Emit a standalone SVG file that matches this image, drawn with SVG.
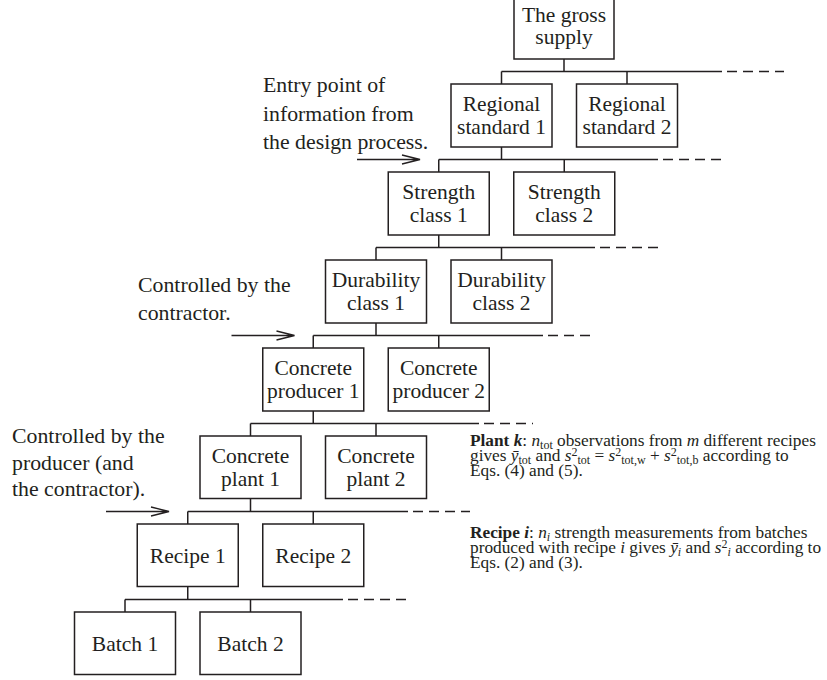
<svg xmlns="http://www.w3.org/2000/svg" width="827" height="680" viewBox="0 0 827 680">
<defs>
<style>
.box{fill:#fff;stroke:#231f20;stroke-width:1.5}
.ln{fill:none;stroke:#231f20;stroke-width:1.5}
.dash{fill:none;stroke:#231f20;stroke-width:1.5;stroke-dasharray:10 6}
.arr{fill:none;stroke:#231f20;stroke-width:1.3}
.nt{font-family:"Liberation Serif","Times New Roman",serif;font-size:21.5px;fill:#231f20;text-anchor:middle}
.lab{font-family:"Liberation Serif","Times New Roman",serif;font-size:21.8px;fill:#231f20}
.note{font-family:"Liberation Serif","Times New Roman",serif;font-size:17.3px;fill:#231f20}
.sub{font-size:12px}
.i{font-style:italic}
.b{font-weight:bold}
</style>
</defs>
<rect width="827" height="680" fill="#fff"/>

<g id="connectors">
<path class="ln" d="M564 59V71.5M501.5 147V159.5M438.75 235V247.5M376 323V335.5M313.25 411V423.5M250.5 498.5V511.5M187.75 586.5V599.5"/>
<path class="ln" d="M501.5 71.5H722M438.75 159.5H658M376 247.5H595M313.25 335.5H543M250.5 423.5H479M187.75 511.5H408M125 599.5H343"/>
<path class="dash" d="M727 71.5H784M663 159.5H722M600 247.5H658M548 335.5H595M484 423.5H533M413 511.5H470M348 599.5H407"/>
<path class="ln" d="M501.5 71.5V84M627 71.5V84M438.75 159.5V172M564.25 159.5V172M376 247.5V260M501.5 247.5V260M313.25 335.5V348M438.75 335.5V348M250.5 423.5V436M376 423.5V436M187.75 511.5V524M313.25 511.5V524M125 599.5V612M250.5 599.5V612"/>
<path class="arr" d="M357 159.5H420M402 155L420 159.5L402 164"/>
<path class="arr" d="M231.5 335.5H294.5M276.5 331L294.5 335.5L276.5 340"/>
<path class="arr" d="M106 511.5H169M151 507L169 511.5L151 516"/>
</g>

<g id="gross-supply"><rect class="box" x="514" y="-4" width="100" height="63"/><text class="nt" x="564" y="22">The gross</text><text class="nt" x="564" y="44">supply</text></g>

<g id="regional-standard-1"><rect class="box" x="451" y="84" width="101" height="63"/><text class="nt" x="501.5" y="111.3">Regional</text><text class="nt" x="501.5" y="133.7">standard 1</text></g>
<g id="regional-standard-2"><rect class="box" x="576.5" y="84" width="101" height="63"/><text class="nt" x="627" y="111.3">Regional</text><text class="nt" x="627" y="133.7">standard 2</text></g>

<g id="strength-class-1"><rect class="box" x="388.25" y="172" width="101" height="63"/><text class="nt" x="438.75" y="199.3">Strength</text><text class="nt" x="438.75" y="221.7">class 1</text></g>
<g id="strength-class-2"><rect class="box" x="513.75" y="172" width="101" height="63"/><text class="nt" x="564.25" y="199.3">Strength</text><text class="nt" x="564.25" y="221.7">class 2</text></g>

<g id="durability-class-1"><rect class="box" x="325.5" y="260" width="101" height="63"/><text class="nt" x="376" y="287.3">Durability</text><text class="nt" x="376" y="309.7">class 1</text></g>
<g id="durability-class-2"><rect class="box" x="451" y="260" width="101" height="63"/><text class="nt" x="501.5" y="287.3">Durability</text><text class="nt" x="501.5" y="309.7">class 2</text></g>

<g id="concrete-producer-1"><rect class="box" x="262.75" y="348" width="101" height="63"/><text class="nt" x="313.25" y="375.3">Concrete</text><text class="nt" x="313.25" y="397.7">producer 1</text></g>
<g id="concrete-producer-2"><rect class="box" x="388.25" y="348" width="101" height="63"/><text class="nt" x="438.75" y="375.3">Concrete</text><text class="nt" x="438.75" y="397.7">producer 2</text></g>

<g id="concrete-plant-1"><rect class="box" x="200" y="436" width="101" height="62.5"/><text class="nt" x="250.5" y="463.3">Concrete</text><text class="nt" x="250.5" y="485.7">plant 1</text></g>
<g id="concrete-plant-2"><rect class="box" x="325.5" y="436" width="101" height="62.5"/><text class="nt" x="376" y="463.3">Concrete</text><text class="nt" x="376" y="485.7">plant 2</text></g>

<g id="recipe-1"><rect class="box" x="137.25" y="524" width="101" height="62.5"/><text class="nt" x="187.75" y="562.5">Recipe 1</text></g>
<g id="recipe-2"><rect class="box" x="262.75" y="524" width="101" height="62.5"/><text class="nt" x="313.25" y="562.5">Recipe 2</text></g>

<g id="batch-1"><rect class="box" x="74.5" y="612" width="101" height="62.5"/><text class="nt" x="125" y="650.5">Batch 1</text></g>
<g id="batch-2"><rect class="box" x="200" y="612" width="101" height="62.5"/><text class="nt" x="250.5" y="650.5">Batch 2</text></g>

<g id="label-design">
<text class="lab" x="263" y="92">Entry point of</text>
<text class="lab" x="263" y="120.5">information from</text>
<text class="lab" x="263" y="149">the design process.</text>
</g>
<g id="label-contractor">
<text class="lab" x="138" y="292">Controlled by the</text>
<text class="lab" x="138" y="319.5">contractor.</text>
</g>
<g id="label-producer">
<text class="lab" x="12" y="443">Controlled by the</text>
<text class="lab" x="12" y="469.5">producer (and</text>
<text class="lab" x="12" y="496">the contractor).</text>
</g>

<g id="note-plant">
<text class="note" x="470" y="446"><tspan class="b">Plant <tspan class="i">k</tspan></tspan>: <tspan class="i">n</tspan><tspan class="sub" dy="3">tot</tspan><tspan dy="-3"> observations from </tspan><tspan class="i">m</tspan> different recipes</text>
<text class="note" x="470" y="461"><tspan>gives </tspan><tspan class="i">ȳ</tspan><tspan class="sub" dy="3">tot</tspan><tspan dy="-3"> and </tspan><tspan class="i">s</tspan><tspan class="sub" dy="-5">2</tspan><tspan class="sub" dy="8">tot</tspan><tspan dy="-3"> = </tspan><tspan class="i">s</tspan><tspan class="sub" dy="-5">2</tspan><tspan class="sub" dy="8">tot,w</tspan><tspan dy="-3"> + </tspan><tspan class="i">s</tspan><tspan class="sub" dy="-5">2</tspan><tspan class="sub" dy="8">tot,b</tspan><tspan dy="-3"> according to</tspan></text>
<text class="note" x="470" y="475.5">Eqs. (4) and (5).</text>
</g>
<g id="note-recipe">
<text class="note" x="470" y="538"><tspan class="b">Recipe <tspan class="i">i</tspan></tspan>: <tspan class="i">n</tspan><tspan class="sub i" dy="3">i</tspan><tspan dy="-3"> strength measurements from batches</tspan></text>
<text class="note" x="470" y="553"><tspan>produced with recipe </tspan><tspan class="i">i</tspan><tspan> gives </tspan><tspan class="i">ȳ</tspan><tspan class="sub i" dy="3">i</tspan><tspan dy="-3"> and </tspan><tspan class="i">s</tspan><tspan class="sub" dy="-5">2</tspan><tspan class="sub i" dy="8">i</tspan><tspan dy="-3"> according to</tspan></text>
<text class="note" x="470" y="567.5">Eqs. (2) and (3).</text>
</g>
</svg>
